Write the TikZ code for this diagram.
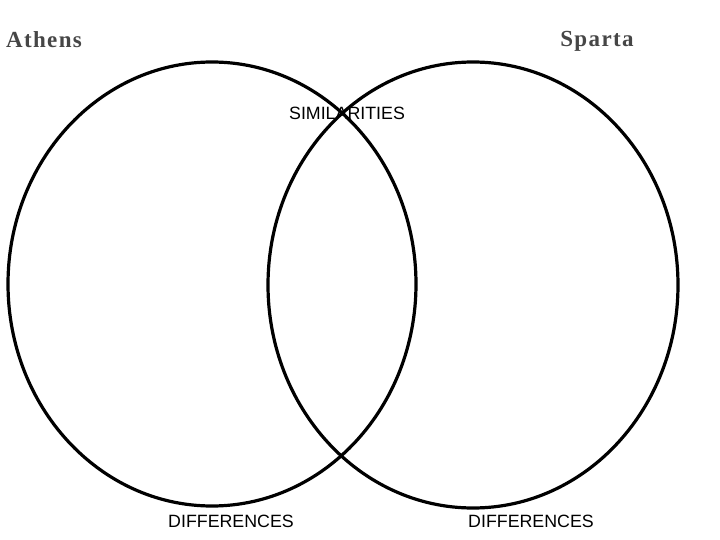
\documentclass[tikz,border=0pt]{standalone}
\usepackage{fontspec}
\setmainfont{Liberation Serif}
\newfontfamily\labelfont{Liberation Sans}
\newfontfamily\titlefont[LetterSpace=6]{Liberation Serif}
\usetikzlibrary{shapes}
\definecolor{titlegray}{RGB}{70,70,70}

\begin{document}
\begin{tikzpicture}[x=1pt,y=-1pt,
	ring/.style={line width=3.2pt,black},
	title/.style={font=\titlefont\fontsize{23}{23}\selectfont\bfseries,text=titlegray,inner sep=0pt},
	caption/.style={font=\labelfont\fontsize{17.8}{17.8}\selectfont,inner sep=0pt}]
		\def\ax{212}
		\def\ay{284}
		\def\sx{473}
		\def\sy{285}
		\def\arx{204}
		\def\ary{222}
		\def\srx{205}
		\def\sry{223}
		\useasboundingbox (0,0) rectangle (720,540);
		\fill[white] (0,0) rectangle (720,540);
		% the two sets
		\draw[ring] (\ax,\ay) ellipse [x radius=\arx, y radius=\ary];
		\draw[ring] (\sx,\sy) ellipse [x radius=\srx, y radius=\sry];
		% titles
		\node[title] (athens) at (44,40) {Athens};
		\node[title] (sparta) at (597,41) {Sparta};
		% region labels
		\node[caption] (similar) at (347,113) {SIMILARITIES};
		\node[caption] (diffa) at (231,521) {DIFFERENCES};
		\node[caption] (diffs) at (531,521) {DIFFERENCES};
\end{tikzpicture}
\end{document}
